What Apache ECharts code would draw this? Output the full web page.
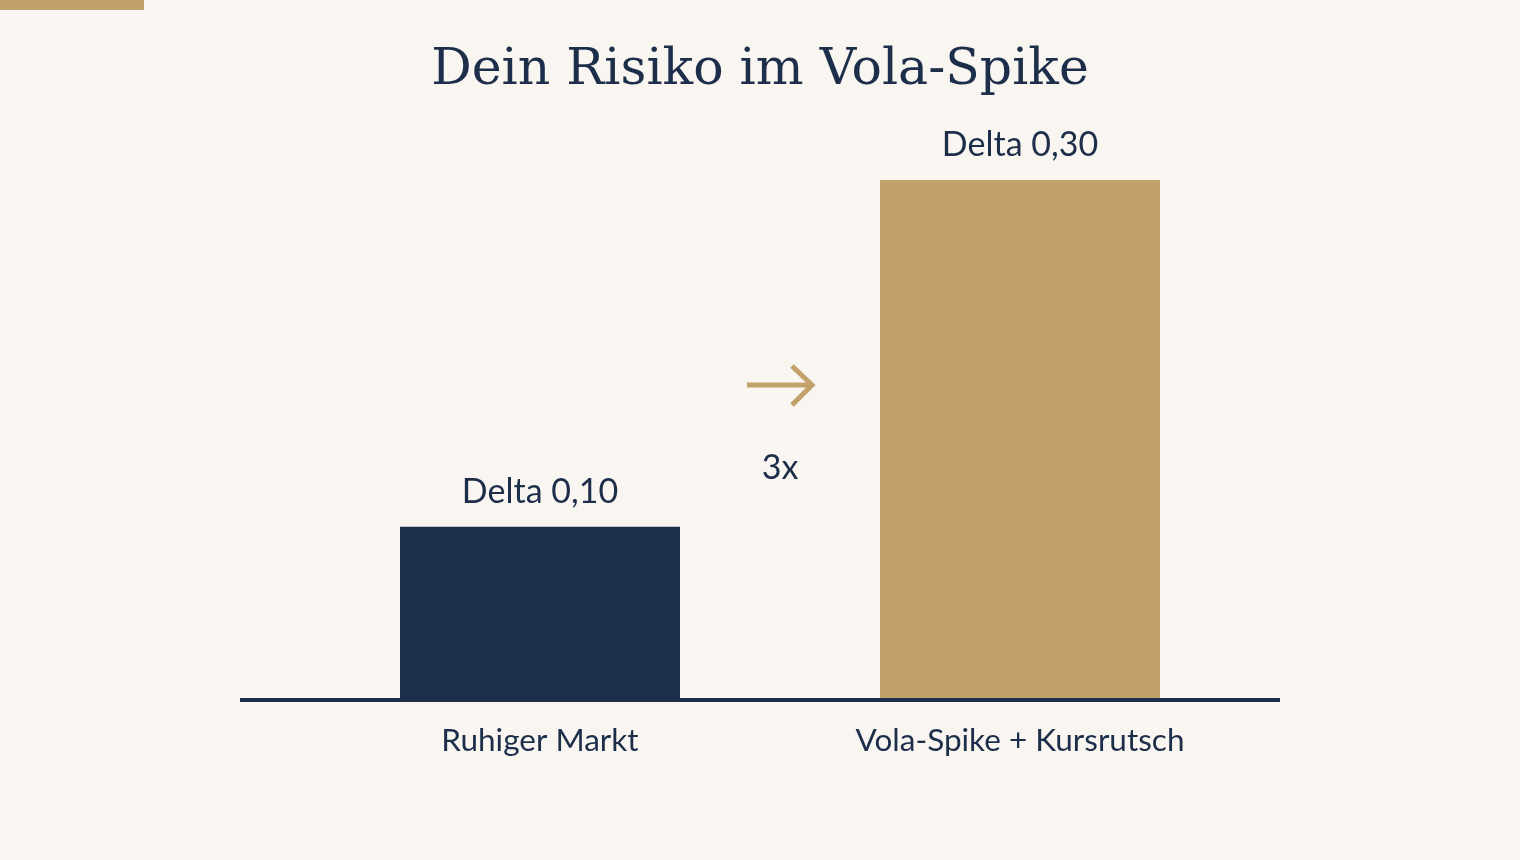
<!DOCTYPE html>
<html>
<head>
<meta charset="utf-8">
<script src="https://cdn.jsdelivr.net/npm/echarts@6/dist/echarts.min.js"></script>
<style>
  html, body { margin: 0; padding: 0; background: #f9f6f1; }
  #chart { width: 1520px; height: 860px; }
</style>
</head>
<body>
<div id="chart"></div>
<script>
// Daten
var categories = ['Ruhiger Markt', 'Vola-Spike + Kursrutsch'];
var deltas = [0.10, 0.30];
var barColors = ['#1c2e4a', '#c2a16b'];

var navy = '#1c2e4a';
var gold = '#c2a16b';

var chart = echarts.init(document.getElementById('chart'));

var factor = Math.round(deltas[1] / deltas[0]) + 'x';

var option = {
    backgroundColor: '#f9f6f1',
    animation: false,
    title: {
        text: 'Dein Risiko im Vola-Spike',
        left: 'center',
        top: 40,
        textStyle: {
            fontFamily: 'DejaVu Serif',
            fontWeight: 'normal',
            fontSize: 50.5,
            color: navy
        }
    },
    grid: {
        left: 300,
        right: 260,
        top: 180,
        bottom: 160
    },
    xAxis: {
        type: 'category',
        data: categories,
        axisLine: { show: false },
        axisTick: { show: false },
        axisLabel: {
            margin: 25,
            fontFamily: 'Lato',
            fontSize: 31.5,
            color: navy
        }
    },
    yAxis: {
        type: 'value',
        min: 0,
        max: 0.3,
        show: false,
        splitLine: { show: false }
    },
    series: [{
        type: 'bar',
        barWidth: 280,
        data: deltas.map(function(v, i) {
            return { value: v, itemStyle: { color: barColors[i] } };
        }),
        label: {
            show: true,
            position: 'top',
            distance: 18,
            fontFamily: 'Lato',
            fontSize: 34,
            color: navy,
            formatter: function(p) {
                return 'Delta ' + p.value.toFixed(2).replace('.', ',');
            }
        }
    }],
    graphic: [
        // Akzentbalken oben links
        { type: 'rect', shape: { x: 0, y: 0, width: 144, height: 10 }, style: { fill: gold } },
        // Grundlinie
        { type: 'rect', shape: { x: 240, y: 698, width: 1040, height: 4 }, style: { fill: navy }, z: 10 },
        // Pfeil
        {
            type: 'polyline',
            shape: { points: [[747, 385], [811, 385]] },
            style: { stroke: gold, lineWidth: 5, fill: null }
        },
        {
            type: 'polyline',
            shape: { points: [[792, 366], [812, 385], [792, 405]] },
            style: { stroke: gold, lineWidth: 5, fill: null }
        },
        {
            type: 'text',
            x: 780,
            y: 468,
            style: {
                text: factor,
                fontFamily: 'Lato',
                fontSize: 34,
                fill: navy,
                textAlign: 'center',
                textVerticalAlign: 'middle'
            }
        }
    ]
};

chart.setOption(option);
</script>
</body>
</html>
